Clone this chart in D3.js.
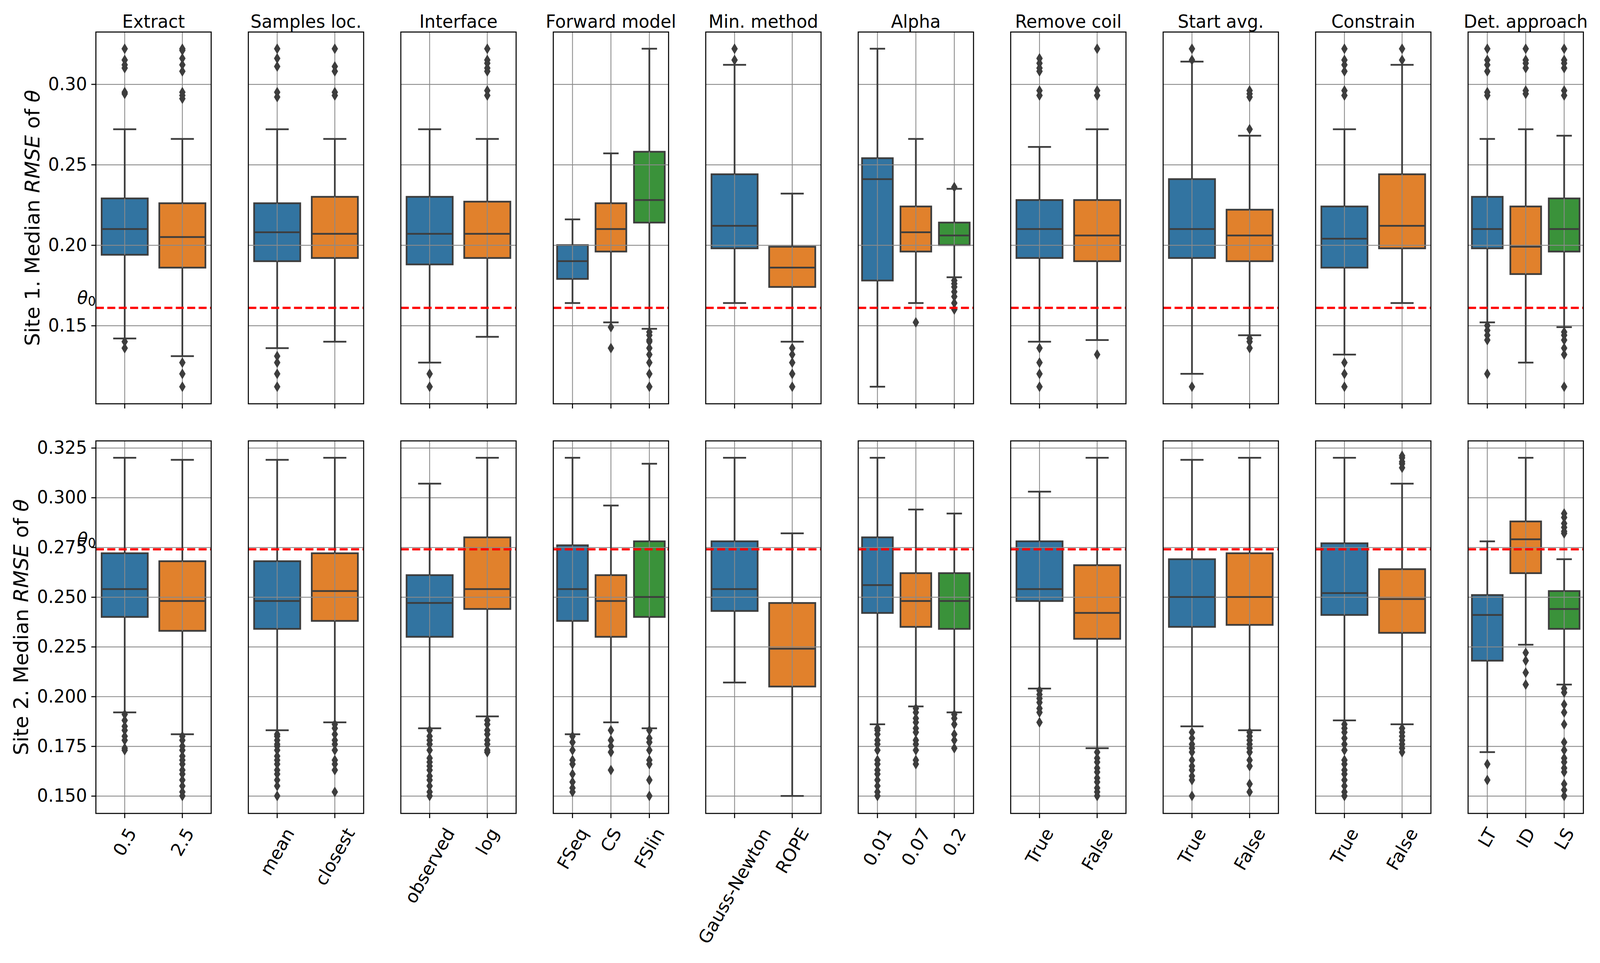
<!DOCTYPE html>
<html>
<head>
<meta charset="utf-8">
<script src="https://cdn.jsdelivr.net/npm/d3@7"></script>
<style>
  html, body { margin: 0; padding: 0; background: #fff; overflow: hidden; width: 100%; height: 100%; }
  #chart svg { display: block; width: 100vw; height: 100vh; }
  text { font-family: "DejaVu Sans", sans-serif; fill: #000; }
</style>
</head>
<body>
<div id="chart"></div>
<script>
// panel titles and category labels
const titles = ["Extract", "Samples loc.", "Interface", "Forward model", "Min. method",
                "Alpha", "Remove coil", "Start avg.", "Constrain", "Det. approach"];
const categories = [
  ["0.5", "2.5"], ["mean", "closest"], ["observed", "log"], ["FSeq", "CS", "FSlin"],
  ["Gauss-Newton", "ROPE"], ["0.01", "0.07", "0.2"], ["True", "False"], ["True", "False"],
  ["True", "False"], ["LT", "ID", "LS"]
];

// box stats per category: [lower whisker, q1, median, q3, upper whisker]
const site1Stats = [
  [[0.142, 0.194, 0.210, 0.229, 0.272], [0.131, 0.186, 0.205, 0.226, 0.266]],
  [[0.136, 0.190, 0.208, 0.226, 0.272], [0.140, 0.192, 0.207, 0.230, 0.266]],
  [[0.127, 0.188, 0.207, 0.230, 0.272], [0.143, 0.192, 0.207, 0.227, 0.266]],
  [[0.164, 0.179, 0.190, 0.200, 0.216], [0.152, 0.196, 0.210, 0.226, 0.257], [0.148, 0.214, 0.228, 0.258, 0.322]],
  [[0.164, 0.198, 0.212, 0.244, 0.312], [0.140, 0.174, 0.186, 0.199, 0.232]],
  [[0.112, 0.178, 0.241, 0.254, 0.322], [0.164, 0.196, 0.208, 0.224, 0.266], [0.180, 0.200, 0.206, 0.214, 0.235]],
  [[0.140, 0.192, 0.210, 0.228, 0.261], [0.141, 0.190, 0.206, 0.228, 0.272]],
  [[0.120, 0.192, 0.210, 0.241, 0.314], [0.144, 0.190, 0.206, 0.222, 0.268]],
  [[0.132, 0.186, 0.204, 0.224, 0.272], [0.164, 0.198, 0.212, 0.244, 0.312]],
  [[0.152, 0.198, 0.210, 0.230, 0.266], [0.127, 0.182, 0.199, 0.224, 0.272], [0.149, 0.196, 0.210, 0.229, 0.268]]
];
const site1Fliers = [
  [[0.322, 0.315, 0.312, 0.310, 0.295, 0.294, 0.140, 0.136],
   [0.322, 0.321, 0.316, 0.312, 0.308, 0.295, 0.293, 0.291, 0.127, 0.120, 0.112]],
  [[0.322, 0.316, 0.311, 0.295, 0.292, 0.131, 0.127, 0.120, 0.112],
   [0.322, 0.311, 0.308, 0.295, 0.293]],
  [[0.120, 0.112],
   [0.322, 0.315, 0.313, 0.310, 0.308, 0.296, 0.293]],
  [[], [0.149, 0.136], [0.146, 0.144, 0.141, 0.140, 0.136, 0.132, 0.127, 0.120, 0.112]],
  [[0.322, 0.315], [0.136, 0.132, 0.127, 0.120, 0.112]],
  [[], [0.152], [0.236, 0.178, 0.176, 0.174, 0.171, 0.168, 0.164, 0.160]],
  [[0.316, 0.313, 0.310, 0.308, 0.296, 0.293, 0.136, 0.127, 0.120, 0.112],
   [0.322, 0.296, 0.293, 0.132]],
  [[0.322, 0.315, 0.112], [0.296, 0.294, 0.292, 0.272, 0.142, 0.140, 0.136]],
  [[0.322, 0.315, 0.312, 0.308, 0.296, 0.293, 0.127, 0.120, 0.112], [0.322, 0.315]],
  [[0.322, 0.315, 0.312, 0.308, 0.295, 0.293, 0.150, 0.147, 0.144, 0.141, 0.120],
   [0.322, 0.315, 0.313, 0.310, 0.296, 0.294],
   [0.322, 0.315, 0.313, 0.310, 0.296, 0.293, 0.146, 0.144, 0.141, 0.136, 0.132, 0.112]]
];

const site2Stats = [
  [[0.192, 0.240, 0.254, 0.272, 0.320], [0.181, 0.233, 0.248, 0.268, 0.319]],
  [[0.183, 0.234, 0.248, 0.268, 0.319], [0.187, 0.238, 0.253, 0.272, 0.320]],
  [[0.184, 0.230, 0.247, 0.261, 0.307], [0.190, 0.244, 0.254, 0.280, 0.320]],
  [[0.181, 0.238, 0.254, 0.276, 0.320], [0.187, 0.230, 0.248, 0.261, 0.296], [0.184, 0.240, 0.250, 0.278, 0.317]],
  [[0.207, 0.243, 0.254, 0.278, 0.320], [0.150, 0.205, 0.224, 0.247, 0.282]],
  [[0.186, 0.242, 0.256, 0.280, 0.320], [0.195, 0.235, 0.248, 0.262, 0.294], [0.192, 0.234, 0.248, 0.262, 0.292]],
  [[0.204, 0.248, 0.254, 0.278, 0.303], [0.174, 0.229, 0.242, 0.266, 0.320]],
  [[0.185, 0.235, 0.250, 0.269, 0.319], [0.183, 0.236, 0.250, 0.272, 0.320]],
  [[0.188, 0.241, 0.252, 0.277, 0.320], [0.186, 0.232, 0.249, 0.264, 0.307]],
  [[0.172, 0.218, 0.241, 0.251, 0.278], [0.226, 0.262, 0.279, 0.288, 0.320], [0.206, 0.234, 0.244, 0.253, 0.269]]
];
const site2Fliers = [
  [[0.191, 0.188, 0.185, 0.183, 0.180, 0.178, 0.174, 0.173],
   [0.180, 0.178, 0.175, 0.173, 0.170, 0.168, 0.166, 0.163, 0.161, 0.158, 0.155, 0.152, 0.150]],
  [[0.181, 0.180, 0.178, 0.176, 0.175, 0.173, 0.170, 0.168, 0.166, 0.163, 0.161, 0.158, 0.155, 0.150],
   [0.186, 0.184, 0.181, 0.178, 0.176, 0.173, 0.168, 0.166, 0.163, 0.152]],
  [[0.183, 0.180, 0.178, 0.176, 0.173, 0.169, 0.167, 0.165, 0.163, 0.160, 0.158, 0.155, 0.152, 0.150],
   [0.188, 0.186, 0.183, 0.181, 0.178, 0.176, 0.173, 0.172]],
  [[0.180, 0.177, 0.173, 0.168, 0.166, 0.161, 0.157, 0.154, 0.152],
   [0.183, 0.178, 0.175, 0.172, 0.163],
   [0.183, 0.179, 0.177, 0.173, 0.168, 0.166, 0.158, 0.150]],
  [[], []],
  [[0.184, 0.183, 0.181, 0.178, 0.176, 0.173, 0.168, 0.166, 0.163, 0.161, 0.158, 0.155, 0.152, 0.150],
   [0.194, 0.192, 0.189, 0.187, 0.184, 0.182, 0.178, 0.176, 0.173, 0.168, 0.166],
   [0.191, 0.189, 0.186, 0.181, 0.178, 0.174]],
  [[0.203, 0.201, 0.199, 0.197, 0.194, 0.192, 0.187],
   [0.172, 0.169, 0.167, 0.164, 0.162, 0.159, 0.157, 0.154, 0.152, 0.150]],
  [[0.182, 0.179, 0.176, 0.174, 0.172, 0.168, 0.165, 0.163, 0.160, 0.158, 0.150],
   [0.182, 0.180, 0.178, 0.176, 0.174, 0.172, 0.168, 0.165, 0.156, 0.152]],
  [[0.186, 0.184, 0.182, 0.179, 0.176, 0.173, 0.168, 0.166, 0.163, 0.161, 0.158, 0.155, 0.152, 0.150],
   [0.321, 0.320, 0.318, 0.317, 0.315, 0.184, 0.182, 0.180, 0.178, 0.176, 0.174, 0.172]],
  [[0.166, 0.158],
   [0.222, 0.218, 0.212, 0.206],
   [0.292, 0.290, 0.287, 0.285, 0.283, 0.282, 0.204, 0.202, 0.196, 0.192, 0.186, 0.177,
    0.173, 0.169, 0.167, 0.164, 0.162, 0.156, 0.153, 0.150]]
];

const theta0 = [0.161, 0.274];
const yDomains = [[0.1014, 0.3324], [0.1412, 0.3285]];
const yTicks = [[0.15, 0.20, 0.25, 0.30], [0.150, 0.175, 0.200, 0.225, 0.250, 0.275, 0.300, 0.325]];
const yTickFormats = [".2f", ".3f"];
const rowNames = ["Site 1.", "Site 2."];
const palette = ["#3274a1", "#e1812c", "#3a923a"];

const width = 4205, height = 2466;
// stretch to whatever viewport the page gets
const svg = d3.select("#chart").append("svg")
    .attr("viewBox", `0 0 ${width} ${height}`)
    .attr("preserveAspectRatio", "none");
svg.append("rect").attr("width", width).attr("height", height).attr("fill", "#fff");

const panelLeft = 252, panelStep = 400.7, panelW = 303;
const rows = [
  { top: 82, h: 952, stats: site1Stats, fliers: site1Fliers },
  { top: 1129, h: 954, stats: site2Stats, fliers: site2Fliers }
];
const edge = "#3d3d3d";
const fs = 46;

rows.forEach((row, r) => {
  const y = d3.scaleLinear().domain(yDomains[r]).range([row.h, 0]);

  titles.forEach((title, c) => {
    const g = svg.append("g").attr("transform", `translate(${panelLeft + c * panelStep},${row.top})`);
    const x = d3.scaleBand().domain(categories[c]).range([0, panelW]);
    const bw = x.bandwidth() * 0.8;
    const cx = d => x(d.cat) + x.bandwidth() / 2;
    const data = categories[c].map((cat, i) => ({ cat, i, s: row.stats[c][i], f: row.fliers[c][i] }));

    // box bodies (below grid)
    g.selectAll("rect.box").data(data).join("rect")
        .attr("class", "box")
        .attr("x", d => cx(d) - bw / 2)
        .attr("y", d => y(d.s[3]))
        .attr("width", bw)
        .attr("height", d => y(d.s[1]) - y(d.s[3]))
        .attr("fill", d => palette[d.i])
        .attr("stroke", edge)
        .attr("stroke-width", 4.5);

    // grid
    g.append("g")
        .call(d3.axisLeft(y).tickValues(yTicks[r]).tickSize(-panelW).tickFormat(""))
        .call(a => a.select(".domain").remove())
        .selectAll("line").attr("stroke", "#8a8a8a").attr("stroke-width", 2.2);
    g.append("g").attr("transform", `translate(0,${row.h})`)
        .call(d3.axisBottom(x).tickSize(-row.h).tickFormat(""))
        .call(a => a.select(".domain").remove())
        .selectAll("line").attr("stroke", "#8a8a8a").attr("stroke-width", 2.2);

    // whiskers, caps, medians
    const lines = g.append("g").attr("stroke", edge).attr("stroke-width", 4.5);
    data.forEach(d => {
      const xc = cx(d);
      lines.append("line").attr("x1", xc).attr("x2", xc).attr("y1", y(d.s[3])).attr("y2", y(d.s[4]));
      lines.append("line").attr("x1", xc).attr("x2", xc).attr("y1", y(d.s[1])).attr("y2", y(d.s[0]));
      [d.s[0], d.s[4]].forEach(v => {
        lines.append("line").attr("x1", xc - bw / 4).attr("x2", xc + bw / 4).attr("y1", y(v)).attr("y2", y(v));
      });
      lines.append("line").attr("x1", xc - bw / 2).attr("x2", xc + bw / 2).attr("y1", y(d.s[2])).attr("y2", y(d.s[2]));
    });

    // fliers (thin diamonds)
    data.forEach(d => {
      g.selectAll(null).data(d.f).join("path")
          .attr("d", "M0,-13L8,0L0,13L-8,0Z")
          .attr("transform", v => `translate(${cx(d)},${y(v)})`)
          .attr("fill", edge)
          .attr("stroke", edge)
          .attr("stroke-width", 1);
    });

    // theta0 reference line
    g.append("line")
        .attr("x1", 0).attr("x2", panelW)
        .attr("y1", y(theta0[r])).attr("y2", y(theta0[r]))
        .attr("stroke", "#ff0000")
        .attr("stroke-width", 5.7)
        .attr("stroke-dasharray", "21,9");

    // frame
    g.append("rect").attr("width", panelW).attr("height", row.h)
        .attr("fill", "none").attr("stroke", "#000").attr("stroke-width", 2.7);

    // bottom ticks
    const xa = g.append("g").attr("transform", `translate(0,${row.h})`)
        .call(d3.axisBottom(x).tickSize(12).tickFormat(r === 1 ? (d => d) : ""));
    xa.select(".domain").remove();
    xa.selectAll("line").attr("stroke", "#000").attr("stroke-width", 2.7);
    if (r === 1) {
      const ang = 60 * Math.PI / 180;
      xa.selectAll("text")
          .attr("font-size", fs)
          .attr("fill", "#000")
          .attr("text-anchor", "middle")
          .attr("y", null)
          .attr("dy", "0.35em")
          .each(function () {
            const w = this.getComputedTextLength();
            const hb = w * Math.sin(ang) + fs * 1.16 * Math.cos(ang);
            d3.select(this).attr("transform", `translate(0,${28 + hb / 2}) rotate(-60)`);
          });
    }

    // title (top row only)
    if (r === 0) {
      g.append("text")
          .attr("x", panelW / 2).attr("y", -11)
          .attr("text-anchor", "middle")
          .attr("font-size", fs)
          .text(title);
    }

    if (c === 0) {
      const ya = g.append("g")
          .call(d3.axisLeft(y).tickValues(yTicks[r]).tickSize(12).tickPadding(11)
              .tickFormat(d3.format(yTickFormats[r])));
      ya.select(".domain").remove();
      ya.selectAll("line").attr("stroke", "#000").attr("stroke-width", 2.7);
      ya.selectAll("text").attr("font-size", fs).attr("fill", "#000");
      const bb = ya.node().getBBox();

      const lab = g.append("text")
          .attr("transform", `translate(${bb.x - 23},${row.h / 2}) rotate(-90)`)
          .attr("text-anchor", "middle")
          .attr("font-size", 47.5);
      lab.append("tspan").text(`${rowNames[r]} Median `);
      lab.append("tspan").attr("font-style", "italic").text("RMSE");
      lab.append("tspan").text(" of ");
      lab.append("tspan").attr("font-style", "italic").text("θ");
      // match the label length seen in the reference (~656 px)
      const len = lab.node().getComputedTextLength();
      if (len > 0) lab.attr("font-size", 47.5 * 656 / len);

      const th = g.append("text")
          .attr("x", 0).attr("y", y(theta0[r]) - 10.5)
          .attr("text-anchor", "end")
          .attr("font-size", fs);
      th.append("tspan").attr("font-style", "italic").text("θ");
      th.append("tspan").attr("font-size", 33).attr("dy", 5.6).text("0");
    }
  });
});
</script>
</body>
</html>
